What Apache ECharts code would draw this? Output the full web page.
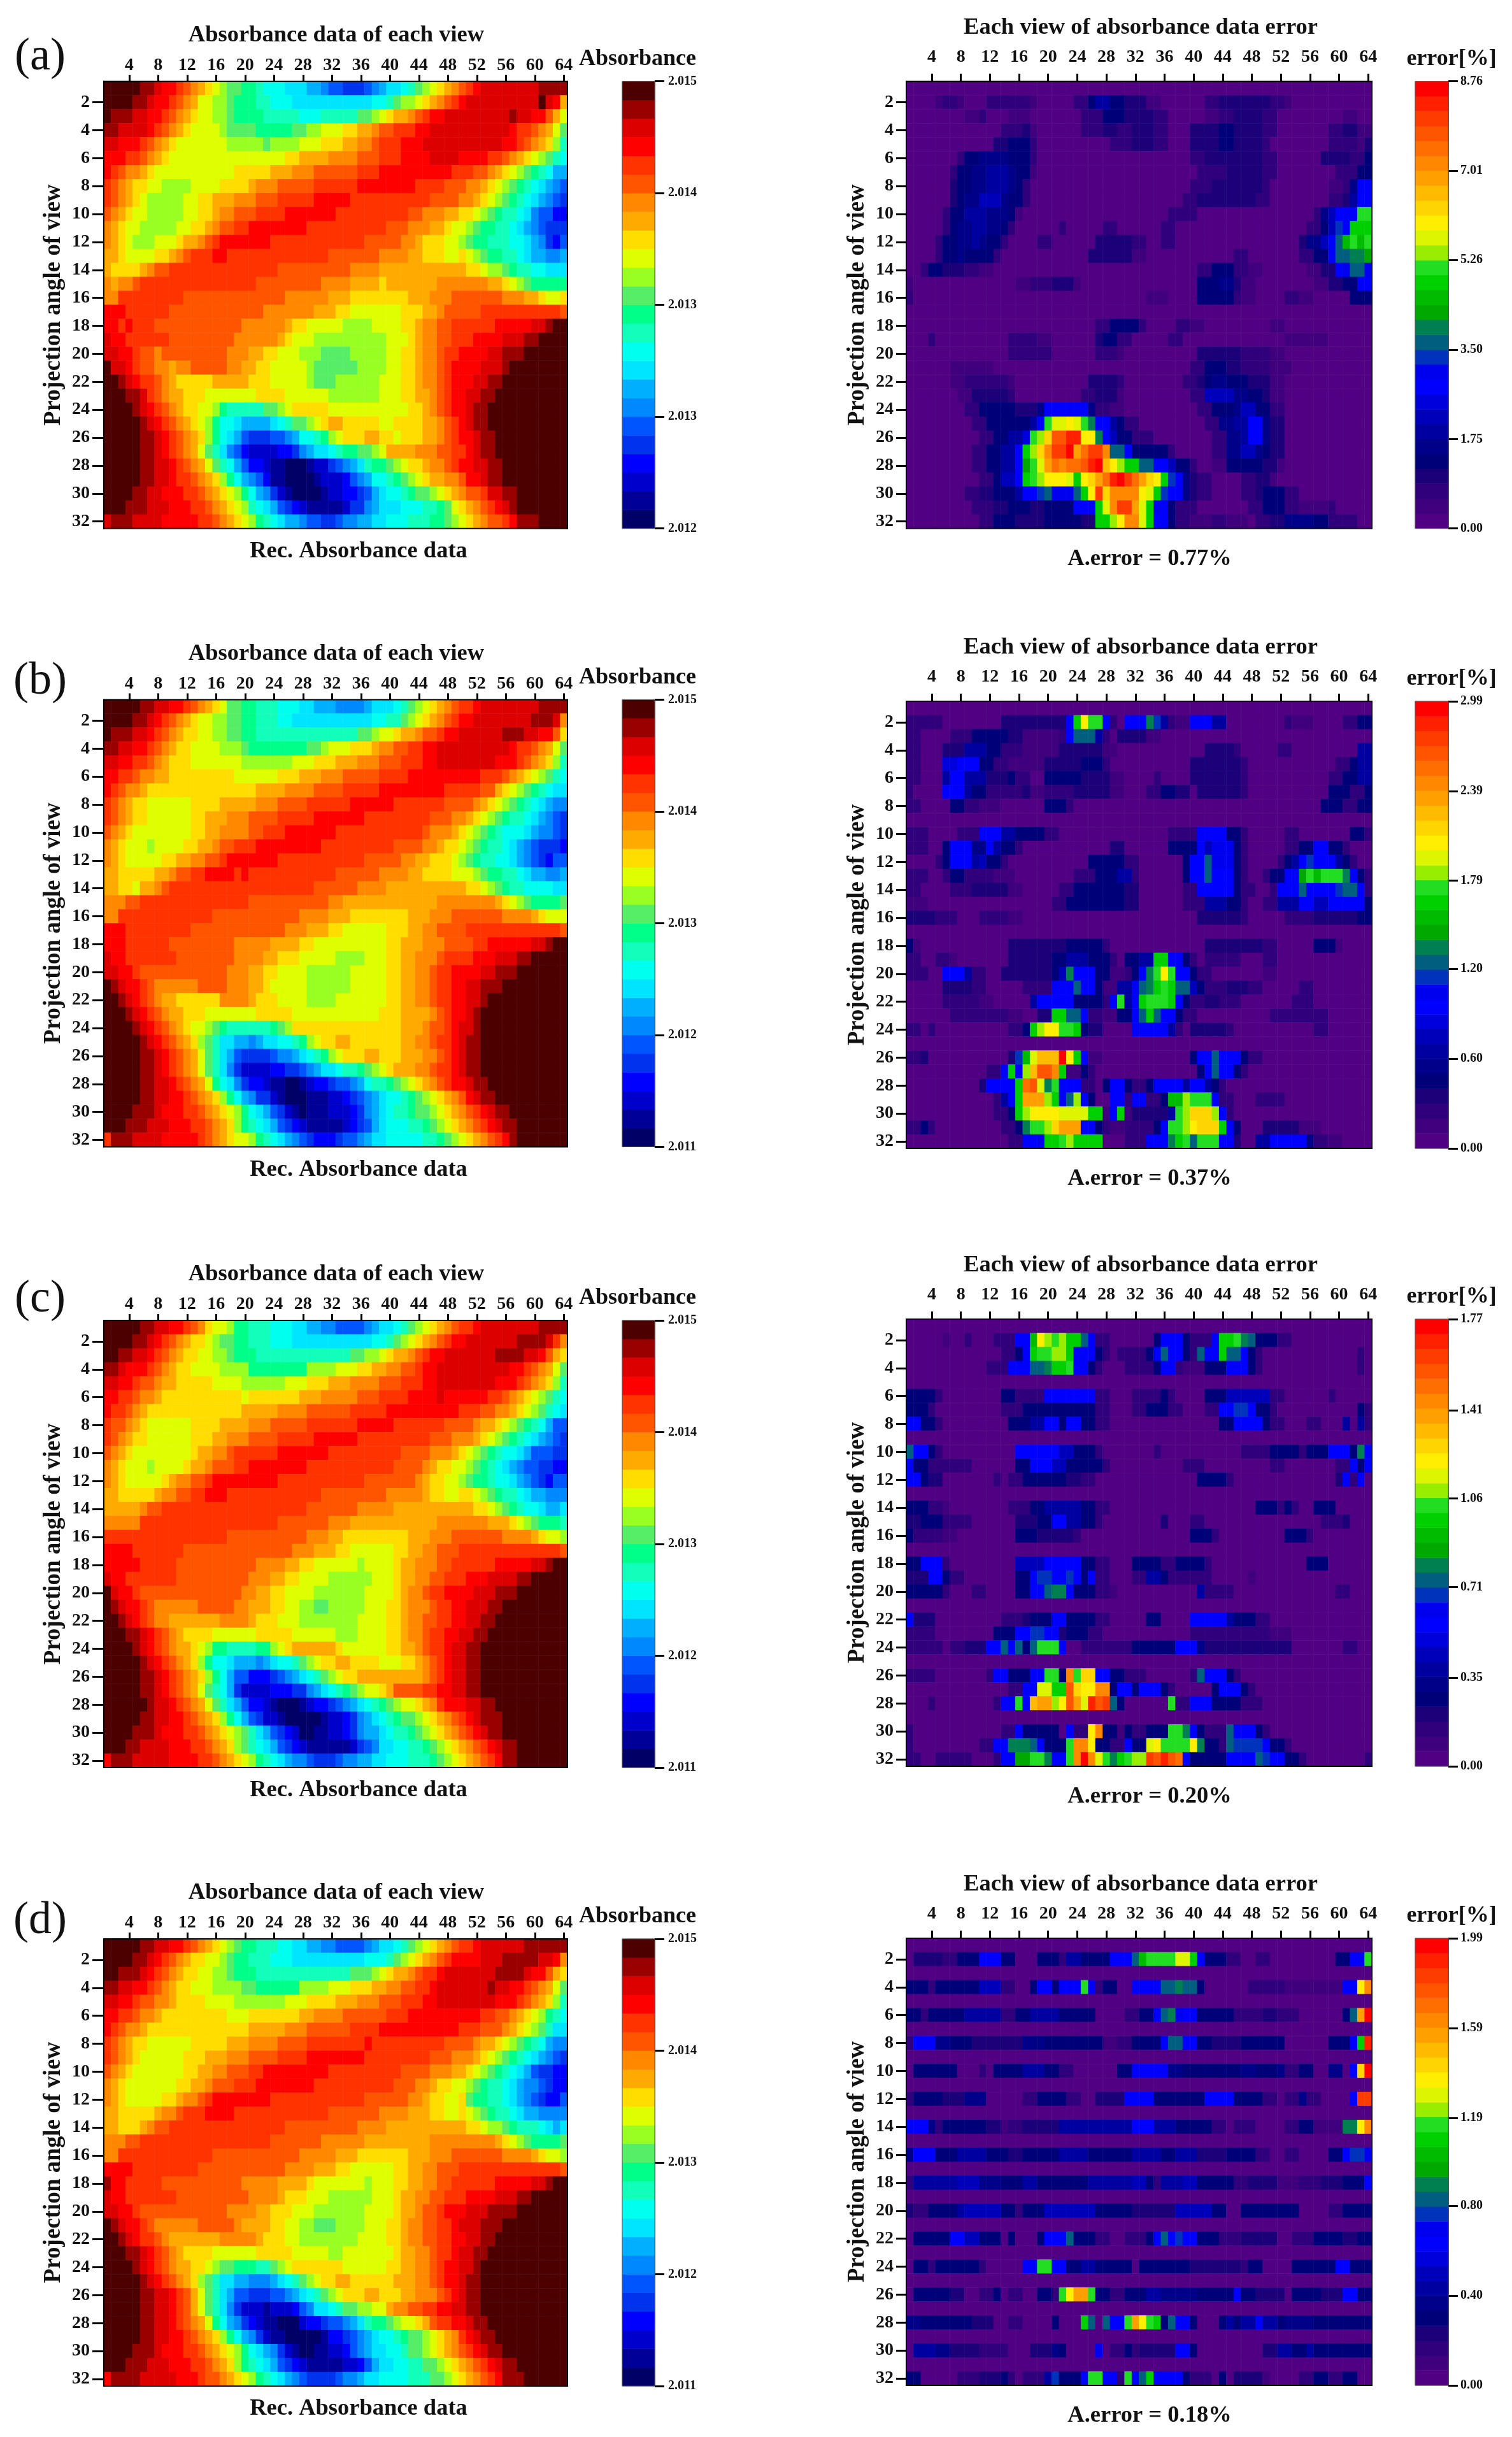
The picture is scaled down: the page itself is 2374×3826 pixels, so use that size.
<!DOCTYPE html>
<html>
<head>
<meta charset="utf-8">
<title>Absorbance data and error per view</title>
<script src="https://cdn.jsdelivr.net/npm/echarts@6/dist/echarts.min.js"></script>
<style>
  html, body { margin: 0; background: #fff; }
  #chart { width: 2374px; height: 3826px; }
</style>
</head>
<body>
<div id="chart"></div>
<script>
// each row is written as runs: colour level letter + last column of that run
const absorbanceA = [
'x5w7v8u10t11s12r13q14p15o16n17m19l21k22j25i28h30g31f33e36f37g38h39i41j42k43m44n45o46p47q48r49s50t51u52v60w64',
'x4w6v7u9t10s11r12q13o15n17m18l21k23j26i37j39k40m41n43o44p45q46r47s48t49u50v60x61v62u63q64',
'x1w4v6u8t9s10r11q12p13o15n17m18l22k27j30k35m37n38o39p40q42r43s44t45u47v56w57v59u61s62q63o64',
'w2v6u7t8s9r10q11p12o16n17m21l26m28n30o33p35q37r38s40t43u45v56u57t59s60r61q62o63m64',
'v2u5t6s7r8q9p10o17n22m23n27o30p33q35r37s38t41u44v55u57t58s59r60q61p62n63k64',
'u3t5s6r7q8p9o25p27q31r35s38t41u45v49u53t55s56r57q58p59o60n61m62k63j64',
'u1t2s3r5q6p7o18p23q26r29s35t38u48t51s53r54q55p56o57n58m59l60k61j62h64',
't1s2r3q4p6o8n12o16p20q21r24s29t35u43t47s50r52q53p54o55n56m57l58k59j60i61h62g63f64',
't1s2r3q4p5o6n11o13p15q18r21s24t29u34t45s49r51q52p53o54n55m56l57k58j59i60h61g62f63e64',
's1r2q3p4o6n11o13p15q16r18s21t25u32t42s44r47q49p51o52n53m54l55k57j58i59g60f62d64',
'r1q2p3o5n10o12p14q15r16s18t20u28t39s42r45q47p48o50n51m52l54k56j57i58h59g60f61e64',
'r1q2p3o4n7o10p11q13r14s15t16u23t36s41r43q44p47o49n50m51l53k56j58i59h60g61e62d63f64',
'q2p3o7p9q10r11s12t15u17t31s38r42q44p47o49p50o51n52m53l55k57j58i59h61g63h64',
'q1p5q6r7s9t24s34r38q50p52o53n55m56l57k59j61i64',
'r1q2r4s5t21s30r34q38p39q46r53q55p56o57n58m59l64',
'r2t11s25r31q34p42q45r48s55r58q60p61o63p64',
'u3t9s22r29q32p34o41p44q46r47s52t63s64',
'u2t3u4t7s19r25q26p28o33n37o41p43q44r46s48t54u59v61w62x64',
'v1u3t9s18r24q25p26o29n39o42p43q44r46s48t51u55v58w60x64',
'v2u4t5s7r8s17r20q22p24o27n30m34n39o41p43q44r46s47t49u53v55w58x64',
'x1v3u4t5s7r9q10r12s17r19q21p23o28n29m35n39o41p43q44r46s47t48u52v55w56x64',
'x2w3v4u5t7s8r9q10p15q20p23o28n29m32n38o41p43q44r46s47t48u51v53w55x64',
'x3w5v6t7s8r9q11p14o21p25o31n38o41p43q45r46s47t48u50v52w54x64',
'x4w5v6u7t8s9r10q11p13o15n16l17k22m24n25o26p31o42p44q45r46s47t48u50v51w53x64',
'x5w6v7u8t9s10r11q12p13o14n15l16j18i19h23i24j25k26m28n29o30p31q33p38o40p44q46r47s48t49u50v51w53x64',
'x5w7v8u9t10s11r12q13p14n15l16j17i18h19f20e23f25g26h27j29k30l31n32o33p36q38p40o41p44q46r47s48t49u51v52w54x64',
'x5w7v8u9t10s11r12q13o14m15k16i17g18f19d20c24d26e27g28h29i31j32k33l35m37n38o39q43r46s48t50u51v52w54x64',
'x5w7v9u10t11s12r13q14o15m16k17j18h19f20d22c23b25a28b29c31e32f33g34h35i36k37l39m40n41o42p44q45r47s48t49u51v53w55x64',
'x5w7v9u10t12s13r14q15p16n17l18j19h20g21f22d23b25a29b30c33d34f35g36h37j39k40l41m42n43o44p45q47r49s50u52v53w55x64',
'x4w6v8u11t13s14r15q16p17o18n19l20j21h22g23e24c25b26a30b31c33d35e36f37h38i39j41k42l43m45n46o47p48q49r50s52t53v55w57x64',
'x3w6v9u12t14s15r16q17p18o19n20k21j22i23h24f25e26d27c28b33c34e36g37h38i41j44k46l47m48o49p50q51r52s53t54u55v56w57x64',
'v1w4v8u13t15s16r17q18p19o20n21l22k23j24i25h27g28f30e32f33g35h37i39j42k45l47m48n49o50p51q52r53s55t56u57w60x64'
];
const absorbanceB = [
'x5w7v9u11t12s13r14q15p16o17m19l21k24j27i29h32g36h37i40j41k42m43n44o45p46q47r48s49t51u52v60w64',
'x4w6v7u8t9s10r11q12p13o15n17m19l21k24j26i37j39k41m42n43o44p45q46r47s48t49u51v59w62v63r64',
'x1w4v6u7t8s9r10q11p13o15n17m19l21k35m37n38o40p41q43r44s46t47u49v55w58v60u62s63p64',
'w2v4u6t7s8r9q10p12o16n19m20l28m30n31o34p37q38r40s42t44u46v56u57t59s60r61q62o63m64',
'v2u4t6s7r8q9p12o19n26o29p32q35r38s41t44u46v54u57t58s59r60q61p62n63k64',
'u2t4s5r7q9p18o24p27q30r33s38t42u52t55s56r57q58p59o60n61m62k63j64',
'u1t2s3r5q6p21q25r29s33t38u47t52s54q55p56o57n58m59l60k61j62i64',
't1s2r3q4p6o12p16q21r24s28t34u40t47s51r52q53p54o55n56m57l58k59j60i61h62g64',
't1s2r3q4p6o12p14q17r20s24t29u36t45s48r50q51p52o53n54m55l56k58j59i60h61g62f63e64',
's1r2q3p4o12p14q16r20s22t25u32t44s45r48q49p50o51n52m53l54k55j58i59h60g62f63e64',
'r1q2p3o6n7o11p13q15r16s18t21u30t40s44r46q47p49o50n51m52l53k55j56i57h58g59f60e63d64',
'r1q2p3o8p10q12r14s16t17u24t36s41r43q45p48o49n50m51l52k54j56i57h58g59f60e61d62f64',
'q2p7q9r10s12t14u18t19u20t32s38r42q44p48o51n52m53l55k57j58i59h61g63h64',
'q2p4o5q7r8s9t29s35r39q50p52o53n54m55l56k58j62i64',
'r3s5t20s31r33q46r54q55p56o57n58m59l63m64',
'r2t15s27r31q34p42q45r48s55r59q60p61o64',
'u3t12s25r28q31p33o39p42q44r46s50t63s64',
'u3t9s18r23q27p29o39p41q44r47s51t53u59v61w62x64',
'v1u3t10s18r22q24p27o32n36o39p41q43r46s47t51u54v57w59x64',
'v2u4t5s17r20q22p24o28n34o39p41q43r45s46t48u52v54w57x64',
'x1w2v3u5t6s7r13s17r20q22p23o28n34o39p41q43r45s46t48u50v52w55x64',
'x2w3v4u5t6s7r8q10p16r20q21p24o28n32o39p41q43r45s46t48u50v52w53x64',
'x3w4v5u6t7s8r9q11p14o21p26o38p41q45r46s47t48u50v51w52x64',
'x4w5v6u7t8s9r10q11p12o14n15m16l17k23l24m25n26p41q44r45s47t48u49v51w52x64',
'x5w6v7u8t9s10r11q12p13n14m15k16i18h20g21h22i24j26k27l28n29o30p32q34p41q43r45s46t48u49v50w52x64',
'x5w7v8u9t10s11r12q13o14m15k16i17h18f19e23f24g26h27i28j29k30l31n32o33p36q38p41q44r46s47t48u49v50w52x64',
'x5w7v8u9t10s11r12q13o14m15k16i17g18e19c23d25e27f28g29h30i32j33k35l36m37n38o39p40q43r45s46t48u49v50w52x64',
'x5w7v9u10t11s12r13q14o15l16j17i18g19e20d22c23b25a27b28c29d31e32f34g35h36j37k39l40m41n42o43p44q45r46s47t48u50v51w53x64',
'x5w7v9u11t12s13r14q15p16n17l18j19h20g21e23c24b25a28b31c33d34e35f36g37h38i39j41k42l43m44n45o46p47q48r49s50u51v52w54x64',
'x4w7v8u11t13s14r15q16p17o18n19l20j21i22h23f24e25c26b27a28b31c34d35e36g37h38i39j40k42l43m45n46o47p48q49r50s51t52u53v54w56x64',
'x3w6v9u12t14s15r16q17p18n19l20k21j22i23h24f25e26d27c28b33c34d35e36f37h38i39j42k44l45m46n47o48p49q50r51s52t53u54v55w57x64',
't1w4v8u13t14s15r16q17p18o20n21l22k23j24i25h26g27f28e29d32e33f35g36h37i39j44k46l47m48n49o50p51q52r53s54t55u56w57x64'
];
const absorbanceC = [
'x5w7v9u11t12s13r14p15o17n18l20k23j26i28h30g32f36g37h38i40j41k42m43n44o45p46q47r48s49t51u52v60w64',
'x4w6v7u8t9s10r11q12p14o15n16m18l20k23j26i37j39k40m41n42o43p44q45r46s47t48u50v57w61v62t63r64',
'x2w4v6u7t8s9r10q11p13o15n17m18l21k34m36n38o39p40q42r43s44t45u47v54w58v60u61s62q63p64',
'w2v3u6t7s8r9q10p12o16n20l28n32o35p37q39r41s43t44u46v56u58t59s60r61q62o63m64',
'v2u4t5s7r8q10p15o19n25o28p31q34r38s41t44u46v54u57t58s59r60q61p62n63k64',
'u2t4s5r7q8p19o20p27q30r35s38t42u46v47u53t55s56r57q58p59o60n61m62k63j64',
'u1t3s4r5q6p19q24r28s34t39u49t52s54r56q57p58o59n60m61k62j63i64',
't1s3r4q5p6o12p16q20r23s28t35u40t47s51r52q54p55o56n57m58l59k60j61h62f64',
't1s2r3q4p6o12p15q17r20s24t29u35t45s48r51q52p53o54n55m56l57k58j59i60h61g62f63e64',
's1r2q3p4o12p13q15r17s18t24u31t41s45r48q49p50o51n52m53l54k55j57i58h59f60f62e64',
'r1q2p3o6n7o11p12q14r15s18t20u28t40s44r45q46p48o50n51m52l53k54j55i56h57g58f60e62d64',
'r1q2p3o8p9q10r12s14t15u24t36s43r44q45p47o49n50m51l53k54j56i57h58g59f60e61d62f64',
'q2p7q8r10s12t14u17t30s39r44q45p47o49p51o52n53m54l55k57j58i59h61g64',
'q5r6s8t28s35r40q51p53o54n55m56l57k58j60i61h63i64',
'r5t24s31r34q46r53q56p57o58n59m60l63k64',
't17s28r31q33p42q45r48s55r59q60p61o63n64',
'u4t11s26r29q32p34o40p42q44r46s49t63s64',
'u5t10s21r25q27p29o35n36o40p41q43r46s48t54u59v61w62x64',
'v1u3t10s20r23q25p27o31n37o40p41q43r45s47t50u53v57w59x64',
'x1v2u4t5s19r21q23p25o29n36o40p41q42r44s45t47u51v54w57x64',
'x1w2v3u5t6s7r13s18r20q23p25o27n29m31n36o39p41q42r45s46t48u50v53w55x64',
'x2w3v4u5t6s7r9q16r20q21p24o27n35o39p41q42r44s46t48u50v52w54x64',
'x3w5v6u7t8s9r10q11p15o21p26o32n35o39p41q42r44s45t47u49v51w53x64',
'x4w5v6u7t8s9r10q12p13o14n15l17k21l23n24o25p26q32p33o39p41q43r44s45t47u48v50w52x64',
'x5w6v7u8t9s10r11q12p13n14l15j17i18h21g22h23i24j26k27m28n29o30p32q34p38o41p43q44r45s46t47u48v50w52x64',
'x5w7v8u9t10s11r12q13p14n15l16j17h18f20d23e24f25g26h27i28j29k30m31n32o33p35q44r45s46t47u48v50w52x64',
'x5w7v8u9t10s11r12q13o14m15k16j17h18e19c23d26e28g29h30i31j32k33l34m35n36o38p39q40s44t46u48v50w52x64',
'x6w7v9u10t11s12r13q14o15m16k17i18h19f20d22c23b24a27b28c29d31e32f33g34h35i36j37k38l39m40n41o43p44q45r46t47u50v52w54x64',
'x5w7v9u11t12s13r14q15p16n17l18j19h20f21e22c24b25a30b31c33d34e35g36h37i38j39k40l41m43n44o45p46q47r48s49t50u51v52w55x64',
'x4w7v8u11t13s14r15q16p17o18n19m20k21i22h23f24e25d26c27a29b31c33d34e35g36h38i39j40k42l43m44n45o46p47q48r49s50t51u52v53w55x64',
'x3w5v9u12t14s15r16q17p18n19m20k21j22i23h24f25e26d27c28b34c35e36f37g38i40j42k44l45m46n47o48p49q50r51s52t53u54v55w57x64',
'u1w4v9u13t15s16r17q18p19o20n21l22k23j24i25h26g28f29e32f33g35h37i39j42k45l46m47n48o49p50q51r52s53t54u55w57x64'
];
const absorbanceD = [
'x5w7v9u11t12s13r14q15p16o17n18m19l21k24j26i28h30g32f36g37h38i40j41k42m43n44o45p46q47r48s49t51u52v58w64',
'x4w6v7u8t9s10r11q12p14o16n17m18l20k23j26i36j39k40m41n42o43p44q45r46s47t48u52v55w60v62u63r64',
'x2w5v6u7t8s9r10q11p13o15n17m18l21k34m37n38o39p40q42r43s44t46u47v54w58v59u61s62q63p64',
'w2v4u6t7s8r9q10p12o15n19m21l27n31o34p37q39r41s43t45u46v53w54v56u58t59s60r61q62o63m64',
'v2u4t5s7r9q10p14o18n25o28p32q35r38s41t44u46v54u57t58s59r60q61p62n63k64',
'u2t4s5r7q8p17o20p27q29r33s39t42u52t54s56r57q58p59o60n61l62k63j64',
'u1t2s3r5q6p20q25r28s34t38u49t52s55r56q57p58o59n60m61k62i64',
't1s2r3q4p6o12p17q20r24s28t36u37t47s51r52q54p55o56n57m58l59k60j61h62g64',
't1s2r3q4p5o11p14q17r20s24t28u36t45s48r51q52p53o54n55m56l57k58j59i60h61g62f63e64',
's1r2q3p4o11p13q15r17s20t22u31t41s45r48q50p51o52n53m54l55k56j57i58h59f60e62d64',
'r1q2p3o10p12q14r15s18t21u29t40s43r45q46p48o50n51m52l53k55j56i57h58g60f61e62d64',
'r1q2p3o8p10q11r13s14t15u23t36s42r44q45p47o49p50m51l53k55j56i57h58g59f60e61d63f64',
'q2p7q8r10s11t14u18t31s38r42q45p47o49p50o51n52m53l54k56j57i58h60g64',
'q2p5q6r7s9t25s35r39q50p52o53n55m56l57k60j61i62h63i64',
'r3s5t23s30r36q45r54q55p56o57n58m59l63m64',
'r2t15s27r32q35p42q45r48s55r59q60p61o63n64',
'u4t13s25r29q32p34o40p42q44r46s49t63s64',
'w1u3t8s19r24q28p29o36n37o40p42q44r46s48t54u59v61w62x64',
'v1u3t10s20r24q25p28o31n37o40p41q43r45s47t50u54v57w59x64',
'v2u4t5s17r21q23p26o29n36o40p41q43r44s46t47u50v53w57x64',
'x1w2v3u5t6s7r13s18r19q23p25o27n29m32n36o39p41q42r44s46t48u49v52w55x64',
'x2w3v4u5t7s8r9q16r21q22p25o27n35o39p41q42r44s46t48u50v52w54x64',
'x3w5v6u7t8s9r10q11p15o21p26o31n33o40p41q43r45s46t48u49v51w53x64',
'x4w5v6u7t8s9r10q12p14o15n16m18l21k23m24n25o26p33o39p41q43r45s46t47u49v51w52x64',
'x5w6v7u8t9s10r11q12p13n14m15k16i18h20g23h24i25j26k27m28n29o30p32q34p40q43r45s46t47u49v50w52x64',
'x5w7v9u10t11s12q13o14m15k16i17h18f20e23f25g26h27i28j29k30m31n32o33p36q38p41q43r46s47t48u49v50w52x64',
'x5w7v9u10t11s12q13o14m15k16i17g18e19c22b23c26d27f28g29i31j32k33m35n37o39q40r42s44t46u48v50w52x64',
'x5w7v9u10t11s12r13q14o15l16j17h18g19e20d21c22b24a27c28d30e31f33g34h35i36k37l39m40n41o43p44q45s46t48u50v51w53x64',
'x5w7v9u11t12s13r14q15p16n17l18j19h20g21e22c23b25a30b31d33e34f35g36h37i38j40k41l42m44n45o46p47q48r49t50u51v52w54x64',
'x4w7v8u11t13s14r15q16p17o18n19l20j21i22h23g24e25c26b27a29b31c33d34f35g36h37i39j41k42m44n45o46p47q48r49s50t51u52v53w55x64',
'x3w6v9u12t14s15r16q17p18n19l20k21j22i23h24f25e26d27c28b33c35d36f37h38i40j42k44m46n47o48p49q50r51s52t53u54v55w57x64',
'u1w5v10u13t14s16r17q18p19o20n21l22k23j24i25h26g27f28e32f33g35h36i38j42k45m47n48o49p50q51r52s53t54u55w58x64'
];
const errorA = [
'a64',
'a4b5c7b8a11c17b18a23c25e26g28e30d33b35a41c43d50c52b53a64',
'a8b10c11a14b17a24c27e30d34c36a41b43c45d49c51a60b62a64',
'a13c16d17b18a24c27d29c31d34c36a39d43e45d49c51a58c60d62b64',
'a12d14e17c18a28c31d34c36a39d43e45d49c50a58c62b63d64',
'a7c8e10f14e17c18a39c41d49c51a57d61c63e64',
'a6c7e9f11g14f15e17b18a40c44d49c51a59c62e64',
'a6d7e9f11g14f15e16c17a39c42d49c50a58b60c61f62j64',
'a6d7e8f10h13f14e16c17a38c40d48c50a58c60d61g62j64',
'a5c6e8g11f14e15b16a36c40a56c57f58h59j62r64',
'a5c6e7f9g11f13e14c15a21c22a27c29a35c37a55c57e58h59l60j61q64',
'a4c5e7f9g10f11e13c14a18c20a26d31c33a35c37a54d55f57h58j59m60p61r62p63r64',
'a4c5e7f8e12c13a25d31b33a45c47a54c56e58j59m61n63o64',
'a2c3e5d8c10b12a40c42e45c47b49a55b57d59j60k61m63k64',
'b1a15b17c20d23b24a40e43f45d46b48a56b58d60e62j64',
'c1a33b36a40e45c46b48a52c54b56a61e64',
'a64',
'a26c28e32c33a37c39b41a50b52a64',
'a3c4a14c18b20a26d27e29c31a36c38a52b58a64',
'a14c20a26c29b30a40d46c50b52a64',
'a6b12a39c41e44d46c50b53a64',
'a6b8c14b15a25d29c30a38c40d41e42f44e47d50b52a64',
'a7b9d14c15a24c26d29b30a39c41h45f47e49d50b52a64',
'a8c10e15d18f19j25f26c28b30a40c42e45f46h48e50c52a64',
'a9c11e17g18j19r20t22u23t24r25n26j28g29e30c32a41c43f45g47j49f50d52a64',
'a10c12e14g16i17r18s19v20A22C24u26n27j28h29e31c34a42c44f46g47j49f50d52a64',
'a9c11e13g15j16q17s18v19y20B22D23x24z25B27y28m30j31e36c37a42c44f46h48f49e50d52a64',
'a9c11e13g15j16o17r18t19x20z21y22z24A25C26D27w28u29s30q32m34j36h37e39c40a42b44e49d51b52a64',
'a10c12e13h15j16q17r18s19u22t23q24u25v26x27z28C29D30B31z32x33v34u35q36l37j38f39d40c42a46c48d50b51a64',
'a8c10d12e15g16j18l19m20k23m24q25u26B27v28y32u33t34q35l36j38f39d40c42a46c48d49e52c54a64',
'a9c12d14e17d19e23j26q27t28y29B31x32t33q34k35j36e37c40a47c49e52c54b58c59a64',
'a10c12e15d19e24d26q28s29u30y32t33q34j36e37c39b42c44b47a48c50d52f56e58c62a64'
];
const errorB = [
'a64',
'c5a13d22j23q24u25r27j28c29a30j33n34l35g36c37b39j42g44a52c53b56a60c62e64',
'c2a6c9e14d16b21c22j23m26g27c28a29d33b35a64',
'c2a5d8g11e13c16b21d27b29a41d45c46a51c53a62g64',
'c2a5i7j10e12c14b19d24e27c28a39d46c47a59c61e62g64',
'c2a5g6j8g11d14e15c17a19e24d28b30a34c35a39d46c47a58c60e62g64',
'c1a5j8g9e11c16d17b19c23d28b30a33c35e37d39a40d46c47a58e61c63e64',
'c2a6e8c10b13a19e22c23a57e60c62e64',
'a64',
'c3a7c10j13g15e19c21a36c40j44e46c47a52c54a61e63c64',
'c3a5e6j9f11j12g13e15c16a28d30a36e40j41h42k45e46c47a52c54e56j58e60c61a64',
'a4c5e6j9g10h11e13c14a25e30c32a38e39j41m42k45e46c47a51c52e53g54j55l56j59g60e61c62a64',
'c3a5c6e8c12b15a23c26e29g31c32a38e39j41m42j45e46c47a49c50e52j54o55r56p57r60n61j62e63c64',
'c2a6c9d14b16a21c23e30d32a38c40j45e46c48a50c51j54m55j59l60m62j63c64',
'b3a20c22e30d32a38c41g44e46c47a49c51g54j56h58j63e64',
'd4c7a10c14b16a40d46c47a52c56d62e64',
'a64',
'e1b2a14d22e27c28a41d49c51a56e59b60a64',
'c2a4c6b7a14d20e22g25e28c29a30e32g34q36j38e39c40a41c46a49c51a64',
'c3a5j8g9c11a13d20e21h22n23j26e28b30c31e32j33n34r35u36r37j39e40c42a49b51a64',
'a5d9c11a16c20j23m24j26e27b29g31j32m33n34q35r36q37m39h40e41c44d47c49a54c56a64',
'a5c10b12a17g18j20j23e27c28j29r30g31j32q33r36q37j38e39c41d43c46a53c56a64',
'a6c14b16a18d20q22m24j25c27b29e31j32m33q34m35j37e38c40a50c53c58a64',
'c2a3c4a14c16e17q18s19u21r23q24e25d27a31j36g37c38a39d44c45a56c58a64',
'a64',
'c2d3a14d15l16p17t18w21D22u23q24j25b27a39e40j42m43j46e47c49a64',
'a11c13j14q15j16s17w18A20y21q22b24e25c26a40e41j42m43j45e46c47a64',
'a10d11j15q16z17A18t19n20r21j22j24c26a27e28j30e31c33e34j38g39j41g42e43c44a64',
'a12c13g14j15q16x19s20q21j22m23s24j25e26a28j30c31j33c35e36p38s39r42j43c45a48c52a64',
'a12c14e15q16s17u21t25q27b28j29q30b31d36g37r38s39v42s43j44c45a64',
'c2e3c4a13c15e16n17r19s20v21x24j26e27c28b30c34e35j36r38s39u40v43q44j45e46a49d54b57a64',
'a14c16j18k19q21r22s23q27a30c33j36n37q38r39m40r43j45d46a48g50j55f56c58b60a64'
];
const errorC = [
'a64',
'a5b6a8c9a12c15j17p18u19s20r21s22q24m25j26c28a34e35j38e39c42j43q45r46n47m48e51c53a64',
'a13c15e16j17q18r20s22q23j26e27c28a29c33e34j35m36j38e39c40m41j43q44m46j47e48c49a62c63a64',
'a11c14j17m19n20q22r23j25e26c27a30c34e35j37c38b41e44j47e48c49a62c63a64',
'a64',
'e4c5a13e15c19j26c28a31c35e36c37a41e44h50c52a58c59a64',
'e3c4a13c16e26c28a31c33e36c38a41c43j45l47j48e50c51a62e63c64',
'j2e4c5a14e17g19j21e22j24e26c28a43e45j49e50c52a55c57a60g61a62g63c64',
'a64',
'm1j3e4c5a15j21h23e26c27a34c35a46c50e54c55e58j61e62n63j64',
'j1e3c5c9a15e17j20h22e27c28a38c41a50c52a59c61j62e63j64',
'j2e3d5a12c13a14c16e22d24c26a40e44c45a59d60j61c62j63a64',
'a64',
'e3c5b6a14c17e19g24e26c28a48e51c52e53c54a56e59a64',
'd2e5c6c9a15d18e20j22g24e26c27a35d36a39c41a57c60d61a64',
'e1c5b7a15e18d23c24a39e42c43a52e55c56a64',
'a64',
'e2j5c6a15h19j24e26c28a31e35c37e41c42a55e58a64',
'd3j5e6c8a15e17j18l20j22l23j24e25j26c28a31c33g35e36c42a47b48a64',
'e5c6a9c11a15e17j19m20n22j23e26c28b29a40g41c43c45a59c61a64',
'a64',
'j1d4a13c16d17e20j22e26c28a33e35a39j44g45e48c50a64',
'c4a12e15j17l19j21d22e25c27a39c50b53a64',
'c5a6c8d11j13m14j15m16e17m18r21j22a24c31e37j40f41d53a60c62a64',
'a64',
'c4a11c12j14e17j19r21e22y23r24v26j28e30c33a39c40m41j44e45c46a64',
'a14c16j18t20q22A23v24u26y28e29j31e32j35e36c37a42e43j46e47c48a64',
'a3c4a12c13j15r16j17w18x20s21u22A23x24t25C26A27B28m29e30a36r37c39j42e46c49a64',
'a64',
'c1a13c15j16e21a22j23c25u26y27e29b30e31c33e36r38n39j40e41c44m45j48e49c50a64',
'c1a10c12j14n17m18j19e22r23y25u26e28c30j31e33t34u35r39u40n41e43c44m45l49j50e52c53a64',
'c2a4c9a12c13j15o17r19n20j22r23y24D25y26t27r28n29q30r31s33B34A35C36A37z38j39e44j45j48m49l50j52e54c55a63c64'
];
const errorD = [
'a64',
'a1d5c7e10j13e15a18e21c22g24e28j31m32p33r37t39q40j41e44c46a48c50a59e61j63r64',
'a64',
'e3c4e10h13c15a17e18j20e21j24r25j26c27e29a31j35m37n38m40e41a47c52b60j62u63y64',
'a64',
'e2c3e8g13c15e17g21e26a30c32e34j35m36n37k38j40e45c49d51c54a60e61m62x63D64',
'a64',
'c1j4f6e9d16f19e22e27b29c31e35j36m38j40e42d46e52a58e61j62q63C64',
'a64',
'a1e7a10c11a12e16g19e21c23a29e31j36f38e46f48e51f52c54e56a58f60a61j62v63D64',
'a64',
'c1e5d8f11a16c18e22c24a26d30j34e41j45e49c51a52c54f55c57a61j62B64',
'a64',
'j3f4c5e11d13b14c16d21g31j34g37e42c44a45c48a52c54e56b60n62u63y64',
'a64',
'f1j4e7g11e14d16e21g25e31g35e37g40d44e48c50a52c54a58e60j61l63k64',
'a64',
'c1g7h10f13e16g18e25g31h33e34c35g38h40e45c47d51b54c57d60e63j64',
'a64',
'd1c3e7g8h13e15c16e19h26e31d37h42e44a46e54a58c60e64',
'a64',
'a1e6j8h10e13a14e15a18e19j22m23e26c28a30c33e34j35m36j37l38j40e43c46d51a53c56e60d62e64',
'a64',
'a1e3c4e10c11a16j18r20j22e24g26e31a32e39d46c47e49a53e59j61e64',
'a64',
'a1e6d8a10c12e13a14c16a18e20c21r22u23x25r26e28c30e33g35f40e45j46e48d52a53e57d60j62e64',
'a64',
'f2e9d12a14c16a20e21a24q25m26a27m28j30r31x32u33r34q35e36m37j39e40a43e44g45e46g48j49g51e52f56e60e64',
'a64',
'a1g4f6d10c14a17d20f21e22a26k27a28c30e31c32d37j39e40a49d51g53e55g56e64',
'a64',
'e2a7c10d13e14c15a16c19g20l21e24j25r27j29c30r31j32m33q34j38e39c42a43e44a45d49b50a54c56e58c60e62a64'
];

const views = Array.from({ length: 64 }, (_, i) => String(i + 1));
const angles = Array.from({ length: 32 }, (_, i) => String(i + 1));

// colour levels, lowest first
const absorbanceColors = ['#000066', '#000099', '#0000cc', '#0000ff', '#0033ee', '#0055ff', '#0088ff', '#00b0ff',
  '#00e5ff', '#00ffee', '#11ffbb', '#00ff88', '#55ee66', '#99ff22', '#ddff00', '#ffdd00',
  '#ffaa00', '#ff8800', '#ff5500', '#ff3300', '#ff0000', '#dd0000', '#990000', '#4d0000'];
const errorColors = ['#520083', '#40007e', '#30007c', '#1c007a', '#000078', '#000088', '#0000a0', '#0000bb',
  '#0000dd', '#0000ff', '#0000ee', '#0033bb', '#005f7f', '#008050', '#00a800', '#00bb00',
  '#00d000', '#22dd22', '#99ee00', '#ddf500', '#ffee00', '#ffd500', '#ffbb00', '#ffa000',
  '#ff8800', '#ff6e00', '#ff5500', '#ff3c00', '#ff2000', '#ff0000'];
const levelKeys = 'abcdefghijklmnopqrstuvwxyzABCD';

const absorbanceRanges = [[2.012, 2.015], [2.011, 2.015], [2.011, 2.015], [2.011, 2.015]];
const absorbanceTicks = [
  [2.012, 2.01275, 2.0135, 2.01425, 2.015],
  [2.011, 2.012, 2.013, 2.014, 2.015],
  [2.011, 2.012, 2.013, 2.014, 2.015],
  [2.011, 2.012, 2.013, 2.014, 2.015]
];
const absorbanceTickLabels = [
  ['2.012', '2.013', '2.013', '2.014', '2.015'],
  ['2.011', '2.012', '2.013', '2.014', '2.015'],
  ['2.011', '2.012', '2.013', '2.014', '2.015'],
  ['2.011', '2.012', '2.013', '2.014', '2.015']
];
const errorTicks = [
  [0, 1.75, 3.5, 5.26, 7.01, 8.76],
  [0, 0.6, 1.2, 1.79, 2.39, 2.99],
  [0, 0.35, 0.71, 1.06, 1.41, 1.77],
  [0, 0.4, 0.8, 1.19, 1.59, 1.99]
];
const panelLetters = ['(a)', '(b)', '(c)', '(d)'];
const meanErrors = ['A.error = 0.77%', 'A.error = 0.37%', 'A.error = 0.20%', 'A.error = 0.18%'];

const leftTops = [127.7, 1098.5, 2073, 3044];
const rightTops = [127.7, 1101, 2071, 3043];
const letterY = [90, 1070, 2040, 3016];
const plotH = 702;

const FONT = '"Liberation Serif", "Times New Roman", serif';
const tickStyle = { color: '#000', width: 3 };

function expandRuns(row) {
  const out = [];
  for (const m of row.matchAll(/([a-zA-Z])(\d+)/g)) {
    const level = levelKeys.indexOf(m[1]);
    while (out.length < +m[2]) out.push(level);
  }
  return out;
}

const grid = [], xAxis = [], yAxis = [], series = [], visualMap = [], title = [];

function text(str, x, y, size, weight) {
  title.push({
    text: str, left: x, top: y, padding: 0, textAlign: 'center', textVerticalAlign: 'middle',
    textStyle: { fontFamily: FONT, fontSize: size, fontWeight: weight || 'bold', color: '#111' }
  });
}

function addPanel(rows, cfg) {
  const step = (cfg.max - cfg.min) / cfg.colors.length;
  const toValue = l => cfg.min + (l + 0.5) * step;
  const g = grid.length;

  // heat map
  grid.push({
    left: cfg.x, top: cfg.y, width: cfg.w, height: plotH, show: true, z: 5,
    backgroundColor: 'transparent', borderColor: '#000', borderWidth: 2
  });
  xAxis.push({
    gridIndex: g, type: 'category', position: 'top', data: views,
    axisLine: { show: true, lineStyle: { color: '#000', width: 2 } },
    axisTick: { show: true, alignWithLabel: true, length: cfg.tickX, interval: (i, v) => (+v) % 4 === 0, lineStyle: tickStyle },
    axisLabel: { interval: (i, v) => (+v) % 4 === 0, margin: cfg.marginX, fontFamily: FONT, fontWeight: 'bold', fontSize: 28, color: '#111' },
    splitLine: { show: false }
  });
  yAxis.push({
    gridIndex: g, type: 'category', inverse: true, data: angles,
    name: 'Projection angle of view', nameLocation: 'middle', nameGap: cfg.nameGap, nameRotate: 90, nameMoveOverlap: false,
    nameTextStyle: { fontFamily: FONT, fontWeight: 'bold', fontSize: 37, color: '#111' },
    axisLine: { show: true, lineStyle: { color: '#000', width: 2 } },
    axisTick: { show: true, alignWithLabel: true, length: cfg.tickY, interval: (i, v) => (+v) % 2 === 0, lineStyle: tickStyle },
    axisLabel: { interval: (i, v) => (+v) % 2 === 0, margin: cfg.marginY, fontFamily: FONT, fontWeight: 'bold', fontSize: 28, color: '#111' },
    splitLine: { show: false }
  });
  const cells = [];
  rows.forEach((row, r) => expandRuns(row).forEach((l, c) => cells.push([c, r, toValue(l)])));
  const heatIdx = series.length;
  series.push({
    type: 'heatmap', xAxisIndex: xAxis.length - 1, yAxisIndex: yAxis.length - 1,
    data: cells, progressive: 0, silent: true, z: 2, itemStyle: { borderWidth: 0 }
  });

  // colour bar
  const b = grid.length;
  grid.push({
    left: cfg.barX, top: cfg.y, width: cfg.barW, height: plotH, show: true, z: 5,
    backgroundColor: 'transparent', borderColor: '#555', borderWidth: 1
  });
  xAxis.push({ gridIndex: b, type: 'category', data: ['bar'], show: false });
  yAxis.push({ gridIndex: b, type: 'category', data: cfg.colors.map((_, i) => String(i)), show: false });
  const barAxisIdx = yAxis.length - 1;
  yAxis.push({
    gridIndex: b, type: 'value', position: 'right', min: cfg.min, max: cfg.max,
    splitLine: { show: false }, axisLine: { show: true, lineStyle: { color: '#555', width: 1 } },
    axisTick: { show: true, length: 15, customValues: cfg.ticks, lineStyle: tickStyle },
    axisLabel: {
      show: true, customValues: cfg.ticks, margin: cfg.marginBar, fontFamily: FONT, fontWeight: 'bold', fontSize: 20, color: '#111',
      formatter: v => cfg.labels[cfg.ticks.indexOf(v)]
    }
  });
  const barIdx = series.length;
  series.push({
    type: 'heatmap', xAxisIndex: xAxis.length - 1, yAxisIndex: barAxisIdx,
    data: cfg.colors.map((_, i) => [0, i, toValue(i)]), progressive: 0, silent: true, z: 2
  });

  visualMap.push({
    type: 'piecewise', show: false, dimension: 2, seriesIndex: [heatIdx, barIdx],
    pieces: cfg.colors.map((color, i) => ({ min: cfg.min + i * step, max: cfg.min + (i + 1) * step, color }))
  });
}

const leftRows = [absorbanceA, absorbanceB, absorbanceC, absorbanceD];
const rightRows = [errorA, errorB, errorC, errorD];

leftRows.forEach((rows, i) => {
  const y = leftTops[i];
  addPanel(rows, {
    x: 163, y, w: 728, barX: 977, barW: 51, colors: absorbanceColors,
    min: absorbanceRanges[i][0], max: absorbanceRanges[i][1],
    ticks: absorbanceTicks[i], labels: absorbanceTickLabels[i],
    tickX: 10, marginX: 11, tickY: 18, marginY: 22, marginBar: 21, nameGap: 60
  });
  text('Absorbance data of each view', 528, y - 72, 36.5);
  text('Absorbance', 1001, y - 35, 36);
  text('Rec. Absorbance data', 563, y + plotH + 36, 36.5);
  text(panelLetters[i], 63, letterY[i], 72, 'normal');
});
rightRows.forEach((rows, i) => {
  const y = rightTops[i];
  const ticks = errorTicks[i];
  addPanel(rows, {
    x: 1423, y, w: 731, barX: 2222, barW: 52, colors: errorColors,
    min: 0, max: ticks[ticks.length - 1],
    ticks, labels: ticks.map(t => t.toFixed(2)),
    tickX: 12, marginX: 24, tickY: 16, marginY: 20, marginBar: 19, nameGap: 58
  });
  text('Each view of absorbance data error', 1791, y - 84, 36.5);
  text('error[%]', 2279, y - 35, 36);
  text(meanErrors[i], 1805, y + plotH + 48, 36.5);
});

const chart = echarts.init(document.getElementById('chart'), null, { renderer: 'canvas' });
chart.setOption({
  backgroundColor: '#fff', animation: false,
  title, grid, xAxis, yAxis, series, visualMap
});
</script>
</body>
</html>
